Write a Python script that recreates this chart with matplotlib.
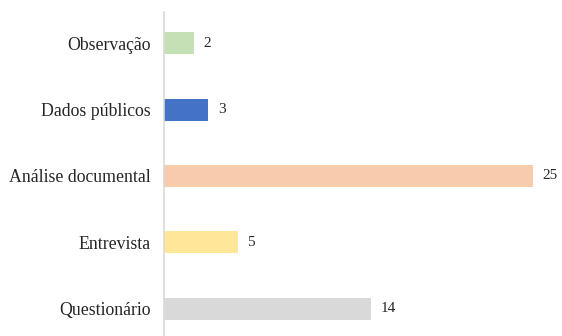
import matplotlib
matplotlib.use("Agg")
import matplotlib.pyplot as plt

categories = ["Questionário", "Entrevista", "Análise documental", "Dados públicos", "Observação"]
values = [14, 5, 25, 3, 2]
colors = ["#D9D9D9", "#FFE699", "#F8CBAD", "#4472C4", "#C5E0B4"]

plt.rcParams['font.family'] = ['Liberation Serif', 'DejaVu Serif']

fig = plt.figure(figsize=(5.62, 3.36), dpi=100)
ax = fig.add_axes([164/562, 0, 1 - 164/562, 1 - 12/336])

pos = list(range(len(categories)))
ax.barh(pos, values, height=0.33, color=colors)
for p, v in zip(pos, values):
    ax.text(v + 0.65, p, str(v), va='center', ha='left', fontsize=11, color='#262626')

ax.set_yticks(pos)
ax.set_yticklabels(categories, fontsize=12.8, color='#262626')
ax.tick_params(axis='y', length=0, pad=9.5)
ax.set_xticks([])
ax.set_xlim(0, (562 - 164) / 14.76)
ax.set_ylim(-0.41, 4.47)
for s in ['top', 'right', 'bottom']:
    ax.spines[s].set_visible(False)
ax.spines['left'].set_color('#D9D9D9')
ax.spines['left'].set_linewidth(1.2)

fig.savefig("out.png", dpi=100)
